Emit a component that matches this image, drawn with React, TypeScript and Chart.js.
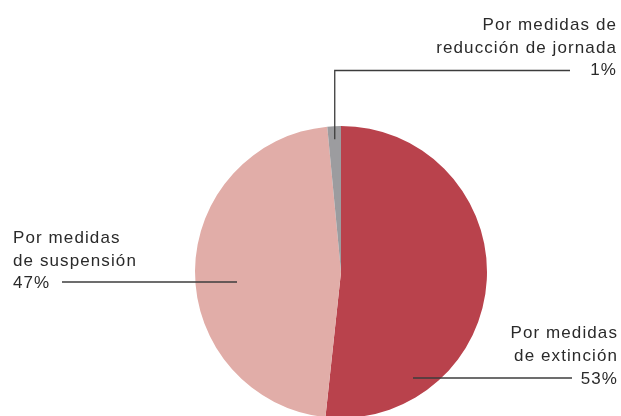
import React, { useEffect, useRef } from "react";
import { Chart, registerables } from "chart.js";

Chart.register(...registerables);

const categories = ["Por medidas de extinción", "Por medidas de suspensión", "Por medidas de reducción de jornada"];
const values = [51.7, 46.8, 1.5];
const valueLabels = ["53%", "47%", "1%"];
const labelLines = [
  ["Por medidas", "de extinción", "53%"],
  ["Por medidas", "de suspensión", "47%"],
  ["Por medidas de", "reducción de jornada", "1%"],
];
const colors = ["#B9424C", "#E1ADA8", "#9C9C9F"];

const labelPlugin = {
  id: "pieLabels",
  afterDatasetsDraw(chart: any) {
    const ctx = chart.ctx as CanvasRenderingContext2D;
    const meta = chart.getDatasetMeta(0);
    const arc0 = meta.data[0] as any;
    const cx = arc0.x;
    const cy = arc0.y;
    const r = arc0.outerRadius;
    ctx.save();
    ctx.font = "17px 'Liberation Sans', Arial, sans-serif";
    (ctx as any).letterSpacing = "1.1px";
    ctx.fillStyle = "#2a2a2a";
    ctx.strokeStyle = "#3c3c3c";
    ctx.lineWidth = 1.3;
    ctx.textBaseline = "alphabetic";

    // grey slice: anchor at mid angle of arc
    const g = meta.data[2] as any;
    const gm = (g.startAngle + g.endAngle) / 2;
    const gx = cx + Math.cos(gm) * r * 0.91;
    const gy = cy + Math.sin(gm) * r * 0.91;
    const topLineY = 70.5;
    ctx.beginPath();
    ctx.moveTo(gx, gy);
    ctx.lineTo(gx, topLineY);
    ctx.lineTo(570, topLineY);
    ctx.stroke();
    ctx.textAlign = "right";
    const l2 = labelLines[2];
    ctx.fillText(l2[0], 617, 30);
    ctx.fillText(l2[1], 617, 52.5);
    ctx.fillText(l2[2], 617, 75);

    // extinction
    const ey = cy + 106;
    ctx.beginPath();
    ctx.moveTo(cx + 72, ey);
    ctx.lineTo(572, ey);
    ctx.stroke();
    const l0 = labelLines[0];
    ctx.fillText(l0[0], 618, 338);
    ctx.fillText(l0[1], 618, 361);
    ctx.fillText(l0[2], 618, 384);

    // suspension
    const sy = cy + 10;
    ctx.beginPath();
    ctx.moveTo(62, sy);
    ctx.lineTo(cx - 104, sy);
    ctx.stroke();
    ctx.textAlign = "left";
    const l1 = labelLines[1];
    ctx.fillText(l1[0], 13, 243);
    ctx.fillText(l1[1], 13, 265.5);
    ctx.fillText(l1[2], 13, 287.5);
    ctx.restore();
  },
};

export default function App() {
  const ref = useRef<HTMLCanvasElement>(null);
  useEffect(() => {
    document.body.style.margin = "0";
    const chart = new Chart(ref.current!, {
      type: "pie",
      data: {
        labels: categories,
        datasets: [
          {
            data: values,
            backgroundColor: colors,
            borderWidth: 0,
          },
        ],
      },
      options: {
        animation: false,
        responsive: false,
        layout: { padding: { left: 195, right: 134, top: 126, bottom: 22 } },
        plugins: { legend: { display: false }, tooltip: { enabled: false } },
      },
      plugins: [labelPlugin],
    });
    return () => chart.destroy();
  }, []);
  return (
    <div style={{ position: "fixed", left: 0, top: 0, width: 621, height: 416, overflow: "hidden", background: "#fff" }}>
      <canvas ref={ref} width={621} height={440} style={{ display: "block" }} />
    </div>
  );
}
